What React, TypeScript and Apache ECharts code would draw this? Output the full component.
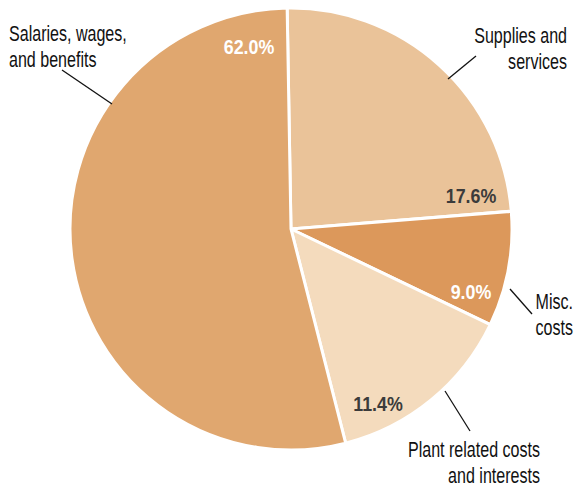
import React, { useEffect, useRef } from "react";
import * as echarts from "echarts";

// Category names (clockwise from 12 o'clock)
const categories = [
  "Supplies and\nservices",
  "Misc.\ncosts",
  "Plant related costs\nand interests",
  "Salaries, wages,\nand benefits",
];
// Printed shares (labels on the slices)
const shares = [17.6, 9.0, 11.4, 62.0];
// Slice sizes as drawn in the picture (percent of the circle)
const sliceSizes = [24.0, 8.4, 13.9, 53.7];
const colors = ["#EAC399", "#DC985B", "#F4DBBD", "#E0A76F"];
const shareColors = ["#3b3b3b", "#ffffff", "#3b3b3b", "#ffffff"];

const FONT = '"Liberation Sans", Arial, sans-serif';

export default function App() {
  const ref = useRef<HTMLDivElement>(null);
  useEffect(() => {
    if (!ref.current) return;
    const chart = echarts.init(ref.current, null, { renderer: "svg" });
    const sharePos = [
      [471, 195],
      [471, 291],
      [378, 403],
      [249, 46],
    ];
    const namePos: { x: number; y: number; align: string }[] = [
      { x: 567, y: 49, align: "right" },
      { x: 573, y: 315, align: "right" },
      { x: 540, y: 463, align: "right" },
      { x: 9, y: 47, align: "left" },
    ];
    const leaders = [
      [448, 79, 476, 56],
      [510, 289, 532, 314],
      [445, 391, 470, 431],
      [112, 104, 62, 70],
    ];
    const graphic: any[] = [];
    shares.forEach((s, i) => {
      graphic.push({
        type: "text",
        x: sharePos[i][0],
        y: sharePos[i][1],
        scaleX: 0.85,
        z: 10,
        style: {
          text: s.toFixed(1) + "%",
          fill: shareColors[i],
          fontSize: 21,
          fontWeight: "bold",
          fontFamily: FONT,
          align: "center",
          verticalAlign: "middle",
        },
      });
      graphic.push({
        type: "text",
        x: namePos[i].x,
        y: namePos[i].y,
        scaleX: 0.73,
        z: 10,
        style: {
          text: categories[i],
          fill: "#111111",
          fontSize: 22,
          lineHeight: 26,
          fontFamily: FONT,
          align: namePos[i].align,
          verticalAlign: "middle",
        },
      });
      graphic.push({
        type: "line",
        z: 10,
        shape: { x1: leaders[i][0], y1: leaders[i][1], x2: leaders[i][2], y2: leaders[i][3] },
        style: { stroke: "#111111", lineWidth: 1.3 },
      });
    });
    chart.setOption({
      animation: false,
      backgroundColor: "#ffffff",
      graphic,
      series: [
        {
          type: "pie",
          center: [291, 229],
          radius: 221,
          startAngle: 91,
          clockwise: true,
          label: { show: false },
          labelLine: { show: false },
          emphasis: { disabled: true },
          itemStyle: { borderColor: "#ffffff", borderWidth: 3 },
          data: categories.map((c, i) => ({
            name: c,
            value: sliceSizes[i],
            itemStyle: { color: colors[i] },
          })),
        },
      ],
    });
    return () => chart.dispose();
  }, []);
  return (
    <div
      ref={ref}
      style={{ position: "fixed", left: 0, top: 0, width: 574, height: 488 }}
    />
  );
}
